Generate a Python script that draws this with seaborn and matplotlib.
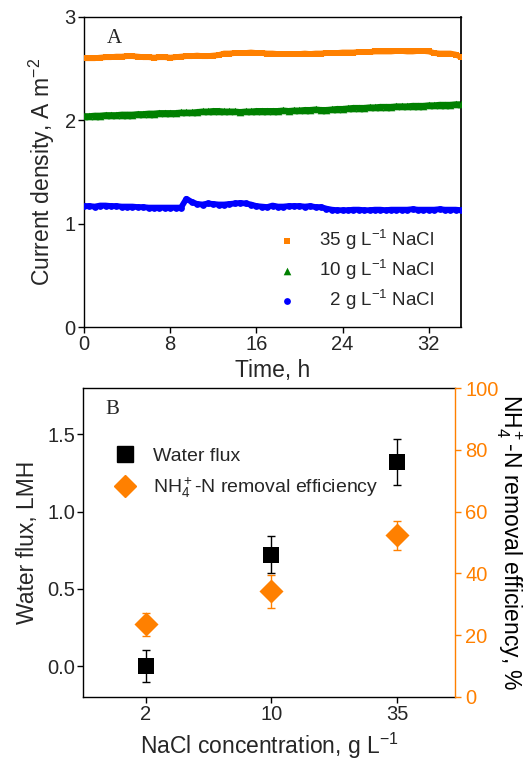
import numpy as np
import pandas as pd
import matplotlib
matplotlib.use("Agg")
import matplotlib.pyplot as plt
import seaborn as sns

sns.set_theme(style="white")
plt.rcParams["font.family"] = ["Liberation Sans", "DejaVu Sans"]
plt.rcParams["mathtext.fontset"] = "custom"
plt.rcParams["mathtext.rm"] = "Liberation Sans"
plt.rcParams["mathtext.it"] = "Liberation Sans:italic"

# ---- panel A: current density over time ----
TIME_H = [0, 0.5, 1, 1.5, 2, 2.5, 3, 3.5, 4, 4.5, 5, 5.5, 6, 6.5, 7, 7.5, 8, 8.5,
          9, 9.5, 10, 10.5, 11, 11.5, 12, 12.5, 13, 13.5, 14, 14.5, 15, 15.5, 16,
          16.5, 17, 17.5, 18, 18.5, 19, 19.5, 20, 20.5, 21, 21.5, 22, 22.5, 23,
          23.5, 24, 24.5, 25, 25.5, 26, 26.5, 27, 27.5, 28, 28.5, 29, 29.5, 30,
          30.5, 31, 31.5, 32, 32.5, 33, 33.5, 34, 34.5, 35]
CD_35 = [2.60, 2.60, 2.60, 2.605, 2.61, 2.61, 2.615, 2.615, 2.62, 2.62, 2.615,
         2.61, 2.61, 2.605, 2.61, 2.61, 2.605, 2.61, 2.615, 2.62, 2.62, 2.625,
         2.62, 2.62, 2.625, 2.63, 2.645, 2.645, 2.65, 2.65, 2.65, 2.655, 2.65,
         2.65, 2.645, 2.645, 2.64, 2.64, 2.64, 2.64, 2.64, 2.645, 2.64, 2.645,
         2.645, 2.65, 2.65, 2.65, 2.655, 2.655, 2.655, 2.66, 2.66, 2.66, 2.665,
         2.665, 2.665, 2.665, 2.67, 2.67, 2.665, 2.665, 2.67, 2.67, 2.665, 2.65,
         2.645, 2.645, 2.645, 2.635, 2.61]
CD_10 = [2.04, 2.04, 2.045, 2.045, 2.05, 2.05, 2.05, 2.055, 2.055, 2.055, 2.06,
         2.06, 2.065, 2.065, 2.07, 2.07, 2.07, 2.07, 2.075, 2.075, 2.075, 2.08,
         2.085, 2.085, 2.09, 2.09, 2.085, 2.085, 2.085, 2.08, 2.085, 2.085, 2.09,
         2.09, 2.09, 2.09, 2.09, 2.095, 2.09, 2.095, 2.095, 2.10, 2.10, 2.105,
         2.10, 2.10, 2.105, 2.11, 2.11, 2.115, 2.12, 2.12, 2.12, 2.125, 2.125,
         2.13, 2.13, 2.13, 2.135, 2.135, 2.135, 2.14, 2.14, 2.14, 2.145, 2.145,
         2.15, 2.15, 2.15, 2.155, 2.155]
CD_2 = [1.17, 1.17, 1.165, 1.175, 1.175, 1.17, 1.17, 1.165, 1.165, 1.165, 1.16,
        1.16, 1.155, 1.155, 1.155, 1.155, 1.155, 1.155, 1.155, 1.24, 1.21, 1.19,
        1.185, 1.195, 1.19, 1.185, 1.185, 1.19, 1.195, 1.20, 1.195, 1.185, 1.17,
        1.165, 1.16, 1.175, 1.165, 1.165, 1.17, 1.17, 1.17, 1.165, 1.17, 1.16,
        1.16, 1.145, 1.135, 1.13, 1.13, 1.13, 1.135, 1.135, 1.13, 1.13, 1.135,
        1.135, 1.13, 1.135, 1.135, 1.135, 1.135, 1.14, 1.135, 1.135, 1.135,
        1.135, 1.14, 1.135, 1.135, 1.135, 1.13]

# ---- panel B: water flux and NH4+-N removal ----
NACL = ["2", "10", "35"]
FLUX = [0.0, 0.72, 1.32]
FLUX_ERR = [0.105, 0.12, 0.15]
REMOVAL = [23.5, 34.2, 52.3]
REMOVAL_ERR = [3.6, 5.3, 4.7]

ORANGE = "#FF8000"
GREEN = "#008000"
BLUE = "#0000FF"
LABEL_FS = 16.5
TICK_FS = 14.5

fig = plt.figure(figsize=(5.3, 7.65), dpi=100)
axA = fig.add_axes([0.1585, 0.5725, 0.7115, 0.4055])
axB = fig.add_axes([0.157, 0.0889, 0.701, 0.4039])

dfA = pd.DataFrame({"t": TIME_H, "c35": CD_35, "c10": CD_10, "c2": CD_2})
series = [("c35", ORANGE, "s", 24, "35 g L$^{-1}$ NaCl"),
          ("c10", GREEN, "^", 30, "10 g L$^{-1}$ NaCl"),
          ("c2", BLUE, "o", 24, "  2 g L$^{-1}$ NaCl")]
for col, colr, mk, sz, lab in series:
    # dense logging shows up as a thick band: trace plus markers
    sns.lineplot(data=dfA, x="t", y=col, ax=axA, color=colr, linewidth=4.2,
                 legend=False, zorder=2)
    sns.scatterplot(data=dfA, x="t", y=col, ax=axA, color=colr, marker=mk,
                    s=sz, linewidth=0, label=lab, zorder=3)
axA.set_xlim(0, 35)
axA.set_ylim(0, 3)
axA.set_xticks([0, 8, 16, 24, 32])
axA.set_yticks([0, 1, 2, 3])
axA.set_xlabel("Time, h", fontsize=LABEL_FS, labelpad=3)
axA.set_ylabel("Current density, A m$^{-2}$", fontsize=LABEL_FS, labelpad=5)
axA.text(0.06, 0.93, "A", transform=axA.transAxes, fontsize=15,
         family="Liberation Serif", va="center", ha="left")
axA.legend(loc="lower left", bbox_to_anchor=(0.47, -0.005), frameon=False,
           fontsize=13.5, handletextpad=1.2, labelspacing=0.32,
           handlelength=1.0, markerscale=1.0)

dfB = pd.DataFrame({"pos": [0, 1, 2], "flux": FLUX, "removal": REMOVAL})
axB.errorbar(dfB["pos"], FLUX, yerr=FLUX_ERR, fmt="none", ecolor="black",
             elinewidth=1, capsize=3, capthick=1, zorder=2)
sns.scatterplot(data=dfB, x="pos", y="flux", ax=axB, color="black", marker="s",
                s=120, linewidth=0, zorder=3, legend=False)
axB.set_xlim(-0.5, 2.46)
axB.set_ylim(-0.2, 1.8)
axB.set_xticks([0, 1, 2])
axB.set_xticklabels(NACL)
axB.set_yticks([0.0, 0.5, 1.0, 1.5])
axB.set_yticklabels(["0.0", "0.5", "1.0", "1.5"])
axB.set_xlabel("NaCl concentration, g L$^{-1}$", fontsize=LABEL_FS, labelpad=5)
axB.set_ylabel("Water flux, LMH", fontsize=LABEL_FS, labelpad=6)
axB.text(0.06, 0.93, "B", transform=axB.transAxes, fontsize=15,
         family="Liberation Serif", va="center", ha="left")

axR = axB.twinx()
axR.errorbar(dfB["pos"], REMOVAL, yerr=REMOVAL_ERR, fmt="none", ecolor=ORANGE,
             elinewidth=1, capsize=3, capthick=1, zorder=2)
sns.scatterplot(data=dfB, x="pos", y="removal", ax=axR, color=ORANGE, marker="D",
                s=150, linewidth=0, zorder=3, legend=False)
axR.set_ylim(0, 100)
axR.set_yticks([0, 20, 40, 60, 80, 100])
axR.set_ylabel("NH$_4^+$-N removal efficiency, %", fontsize=LABEL_FS,
               rotation=270, labelpad=18)
axR.tick_params(axis="y", colors=ORANGE, labelsize=TICK_FS, direction="out",
                length=4, width=1)
axR.yaxis.label.set_color("black")
axR.spines["right"].set_color(ORANGE)
for s in ["left", "top", "bottom"]:
    axR.spines[s].set_visible(False)

h1 = plt.Line2D([], [], color="black", marker="s", ls="none", markersize=11)
h2 = plt.Line2D([], [], color=ORANGE, marker="D", ls="none", markersize=11)
axB.legend([h1, h2], ["Water flux", "NH$_4^+$-N removal efficiency"],
           loc="upper left", bbox_to_anchor=(0.035, 0.865), frameon=False,
           fontsize=14, handletextpad=0.8, labelspacing=0.55, handlelength=1.2)

for ax in [axA, axB]:
    ax.tick_params(axis="both", labelsize=TICK_FS, direction="out", length=4,
                   width=1, color="black", bottom=True, left=True, pad=2)
    for s in ["left", "bottom", "top"]:
        ax.spines[s].set_color("black")
        ax.spines[s].set_linewidth(1)
axA.spines["right"].set_color("black")
axB.spines["right"].set_visible(False)
axR.spines["right"].set_linewidth(1)

fig.savefig("out.png", dpi=100)
